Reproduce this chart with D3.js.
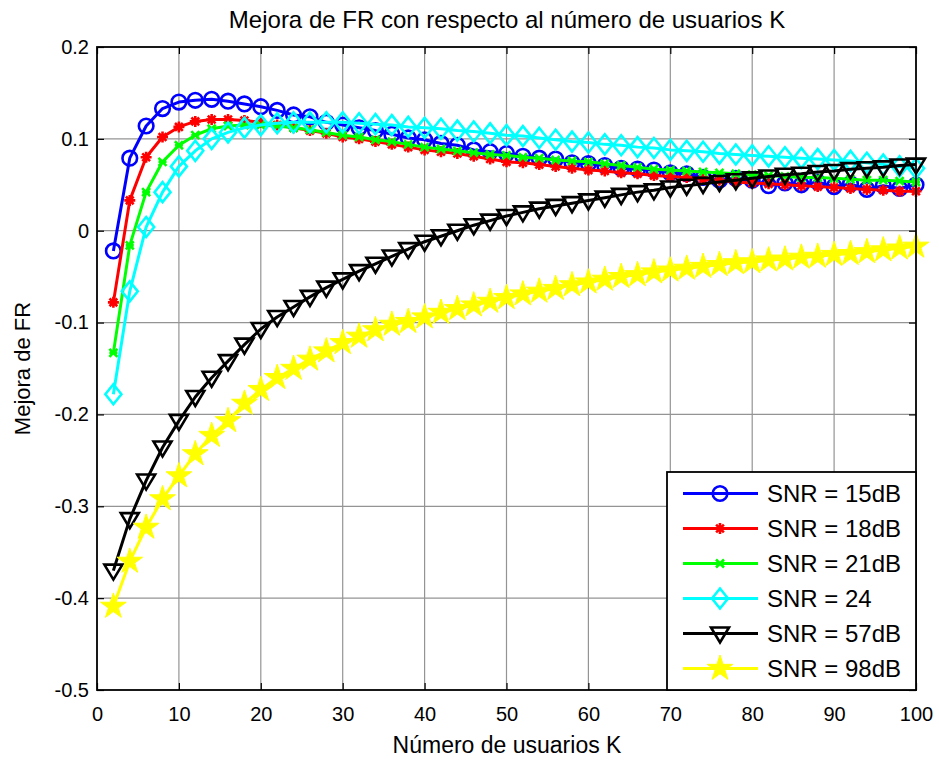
<!DOCTYPE html>
<html>
<head>
<meta charset="utf-8">
<script src="https://cdn.jsdelivr.net/npm/d3@7"></script>
<style>
  body { margin: 0; background: #fff; }
  text { font-family: "Liberation Sans", Arial, sans-serif; fill: #000; }
</style>
</head>
<body>
<svg id="chart" width="939" height="760"></svg>
<script>
// Number of users K (x values)
const usuariosK = [2,4,6,8,10,12,14,16,18,20,22,24,26,28,30,32,34,36,38,40,
  42,44,46,48,50,52,54,56,58,60,62,64,66,68,70,72,74,76,78,80,
  82,84,86,88,90,92,94,96,98,100];

// FR improvement for each SNR
const snr15 = [-0.022,0.079,0.114,0.133,0.140,0.142,0.143,0.141,0.138,0.135,
  0.131,0.126,0.124,0.118,0.115,0.112,0.109,0.105,0.101,0.099,
  0.095,0.093,0.088,0.086,0.084,0.081,0.079,0.078,0.074,0.073,
  0.071,0.068,0.067,0.066,0.063,0.062,0.058,0.055,0.057,0.055,
  0.049,0.052,0.050,0.053,0.048,0.051,0.045,0.049,0.046,0.050];
const snr18 = [-0.078,0.033,0.080,0.102,0.113,0.119,0.121,0.121,0.120,0.118,
  0.115,0.112,0.109,0.106,0.102,0.100,0.097,0.094,0.091,0.088,
  0.086,0.084,0.081,0.078,0.075,0.074,0.072,0.070,0.068,0.066,
  0.065,0.063,0.062,0.060,0.059,0.058,0.056,0.055,0.053,0.052,
  0.051,0.050,0.049,0.048,0.047,0.046,0.045,0.044,0.043,0.043];
const snr21 = [-0.133,-0.016,0.042,0.075,0.093,0.104,0.111,0.114,0.115,0.115,
  0.114,0.112,0.110,0.107,0.104,0.102,0.099,0.097,0.094,0.091,
  0.089,0.087,0.085,0.083,0.082,0.080,0.079,0.077,0.076,0.075,
  0.073,0.071,0.069,0.067,0.066,0.065,0.064,0.063,0.062,0.061,
  0.060,0.059,0.058,0.058,0.057,0.056,0.055,0.055,0.054,0.053];
const snr24 = [-0.178,-0.066,0.004,0.042,0.070,0.087,0.100,0.107,0.112,0.115,
  0.117,0.118,0.118,0.118,0.118,0.117,0.116,0.115,0.113,0.112,
  0.111,0.109,0.108,0.106,0.104,0.103,0.101,0.099,0.097,0.096,
  0.094,0.093,0.091,0.090,0.088,0.087,0.086,0.084,0.083,0.082,
  0.081,0.080,0.079,0.078,0.077,0.076,0.074,0.072,0.070,0.068];
const snr57 = [-0.370,-0.314,-0.272,-0.236,-0.207,-0.181,-0.160,-0.142,-0.124,-0.107,
  -0.094,-0.083,-0.072,-0.062,-0.053,-0.044,-0.036,-0.028,-0.020,-0.012,
  -0.006,0.000,0.006,0.011,0.016,0.020,0.024,0.027,0.030,0.033,
  0.036,0.039,0.042,0.044,0.047,0.049,0.051,0.053,0.055,0.057,
  0.059,0.061,0.062,0.064,0.065,0.067,0.068,0.069,0.071,0.072];
const snr98 = [-0.409,-0.360,-0.323,-0.292,-0.267,-0.243,-0.223,-0.207,-0.188,-0.173,
  -0.160,-0.150,-0.140,-0.131,-0.122,-0.115,-0.108,-0.102,-0.099,-0.094,
  -0.089,-0.085,-0.081,-0.077,-0.073,-0.069,-0.066,-0.063,-0.059,-0.056,
  -0.053,-0.050,-0.048,-0.045,-0.043,-0.041,-0.039,-0.037,-0.035,-0.034,
  -0.032,-0.031,-0.029,-0.028,-0.026,-0.025,-0.023,-0.021,-0.019,-0.017];

const seriesNames = ["SNR = 15dB","SNR = 18dB","SNR = 21dB","SNR = 24","SNR = 57dB","SNR = 98dB"];
const seriesColors = ["#0000ff","#ff0000","#00ff00","#00ffff","#000000","#ffff00"];
const seriesMarkers = ["circle","asterisk","cross","diamond","triangleDown","pentagram"];
const seriesValues = [snr15, snr18, snr21, snr24, snr57, snr98];

const xTicks = [0,10,20,30,40,50,60,70,80,90,100];
const yTicks = [0.2,0.1,0,-0.1,-0.2,-0.3,-0.4,-0.5];
const yTickLabels = ["0.2","0.1","0","-0.1","-0.2","-0.3","-0.4","-0.5"];

const titleText = "Mejora de FR con respecto al número de usuarios K";
const xLabelText = "Número de usuarios K";
const yLabelText = "Mejora de FR";

// Layout
const plot = { left: 97, right: 916, top: 47, bottom: 690 };
const svg = d3.select("#chart");

const x = d3.scaleLinear().domain([0, 100]).range([plot.left, plot.right]);
const y = d3.scaleLinear().domain([-0.5, 0.2]).range([plot.bottom, plot.top]);

// Grid
const grid = svg.append("g").attr("class", "grid");
grid.selectAll("line.gx").data(xTicks.slice(1, -1)).enter().append("line")
  .attr("x1", d => x(d)).attr("x2", d => x(d))
  .attr("y1", plot.top).attr("y2", plot.bottom)
  .attr("stroke", "#949494").attr("stroke-width", 1.2);
grid.selectAll("line.gy").data(yTicks.slice(1, -1)).enter().append("line")
  .attr("x1", plot.left).attr("x2", plot.right)
  .attr("y1", d => y(d)).attr("y2", d => y(d))
  .attr("stroke", "#949494").attr("stroke-width", 1.2);

// Marker shapes
function markerPath(kind) {
  switch (kind) {
    case "circle": {
      const r = 7.3;
      return `M${-r},0A${r},${r} 0 1,0 ${r},0A${r},${r} 0 1,0 ${-r},0Z`;
    }
    case "asterisk": {
      const a = 5.5, b = a * 0.707;
      return `M${-a},0L${a},0M0,${-a}L0,${a}M${-b},${-b}L${b},${b}M${-b},${b}L${b},${-b}`;
    }
    case "cross": {
      const a = 4;
      return `M${-a},${-a}L${a},${a}M${-a},${a}L${a},${-a}M${-a},0L${a},0`;
    }
    case "diamond":
      return "M0,-10L8,0L0,10L-8,0Z";
    case "triangleDown":
      return "M-9,-6L9,-6L0,9Z";
    case "pentagram": {
      const R = 13.5, r = R * 0.382;
      const pts = [];
      for (let i = 0; i < 10; i++) {
        const ang = -Math.PI / 2 + i * Math.PI / 5;
        const rad = i % 2 === 0 ? R : r;
        pts.push([rad * Math.cos(ang), rad * Math.sin(ang)]);
      }
      return "M" + pts.map(p => p[0].toFixed(2) + "," + p[1].toFixed(2)).join("L") + "Z";
    }
  }
}
function drawMarker(sel, kind, color) {
  const filled = kind === "pentagram";
  sel.attr("d", markerPath(kind))
    .attr("fill", filled ? color : "none")
    .attr("stroke", color)
    .attr("stroke-width", filled ? 1 : 2.6)
    .attr("stroke-linejoin", "miter");
}

// Series
const line = d3.line().x(d => x(d[0])).y(d => y(d[1]));
const plotArea = svg.append("g").attr("class", "series");
seriesValues.forEach((vals, i) => {
  const pts = usuariosK.map((k, j) => [k, vals[j]]);
  const g = plotArea.append("g");
  g.append("path").datum(pts).attr("d", line)
    .attr("fill", "none").attr("stroke", seriesColors[i]).attr("stroke-width", 3)
    .attr("stroke-linejoin", "round");
  g.selectAll("path.m").data(pts).enter().append("path").attr("class", "m")
    .attr("transform", d => `translate(${x(d[0])},${y(d[1])})`)
    .call(drawMarker, seriesMarkers[i], seriesColors[i]);
});

// Axes with inward ticks
const tickLen = 7;
const axisFont = 20;
const gx = svg.append("g").attr("transform", `translate(0,${plot.bottom})`)
  .call(d3.axisBottom(x).tickValues(xTicks).tickSizeInner(-tickLen).tickSizeOuter(0).tickPadding(16));
const gxTop = svg.append("g").attr("transform", `translate(0,${plot.top})`)
  .call(d3.axisTop(x).tickValues(xTicks).tickSizeInner(-tickLen).tickSizeOuter(0).tickFormat(""));
const gy = svg.append("g").attr("transform", `translate(${plot.left},0)`)
  .call(d3.axisLeft(y).tickValues(yTicks).tickSizeInner(-tickLen).tickSizeOuter(0).tickPadding(8)
    .tickFormat((d, i) => yTickLabels[i]));
const gyRight = svg.append("g").attr("transform", `translate(${plot.right},0)`)
  .call(d3.axisRight(y).tickValues(yTicks).tickSizeInner(-tickLen).tickSizeOuter(0).tickFormat(""));
[gx, gxTop, gy, gyRight].forEach(g => {
  g.select(".domain").remove();
  g.selectAll(".tick line").attr("stroke", "#000").attr("stroke-width", 1.2);
  g.selectAll(".tick text").attr("font-size", axisFont)
    .attr("font-family", "'Liberation Sans', Arial, sans-serif").attr("fill", "#000");
});
gx.selectAll(".tick text").attr("dy", "0.75em");

// Box
svg.append("rect")
  .attr("x", plot.left).attr("y", plot.top)
  .attr("width", plot.right - plot.left).attr("height", plot.bottom - plot.top)
  .attr("fill", "none").attr("stroke", "#000").attr("stroke-width", 1.8);

// Titles
svg.append("text").attr("x", 507).attr("y", 28)
  .attr("text-anchor", "middle").attr("font-size", 24).text(titleText);
svg.append("text").attr("x", 507).attr("y", 753)
  .attr("text-anchor", "middle").attr("font-size", 23).text(xLabelText);
svg.append("text").attr("transform", `translate(30,${(plot.top + plot.bottom) / 2}) rotate(-90)`)
  .attr("text-anchor", "middle").attr("font-size", 22).text(yLabelText);

// Legend
const legend = { left: 667, top: 472, right: 916, bottom: 690 };
const lg = svg.append("g").attr("class", "legend");
lg.append("rect").attr("x", legend.left).attr("y", legend.top)
  .attr("width", legend.right - legend.left).attr("height", legend.bottom - legend.top)
  .attr("fill", "#fff").attr("stroke", "#000").attr("stroke-width", 1.8);
const rowY = d3.scalePoint().domain(seriesNames).range([493.5, 668.5]);
seriesNames.forEach((name, i) => {
  const cy = rowY(name);
  lg.append("line").attr("x1", 683).attr("x2", 758).attr("y1", cy).attr("y2", cy)
    .attr("stroke", seriesColors[i]).attr("stroke-width", 3);
  lg.append("path").attr("transform", `translate(720,${cy})`)
    .call(drawMarker, seriesMarkers[i], seriesColors[i]);
  lg.append("text").attr("x", 767).attr("y", cy).attr("dy", "0.36em")
    .attr("font-size", 24).text(name);
});
</script>
</body>
</html>
